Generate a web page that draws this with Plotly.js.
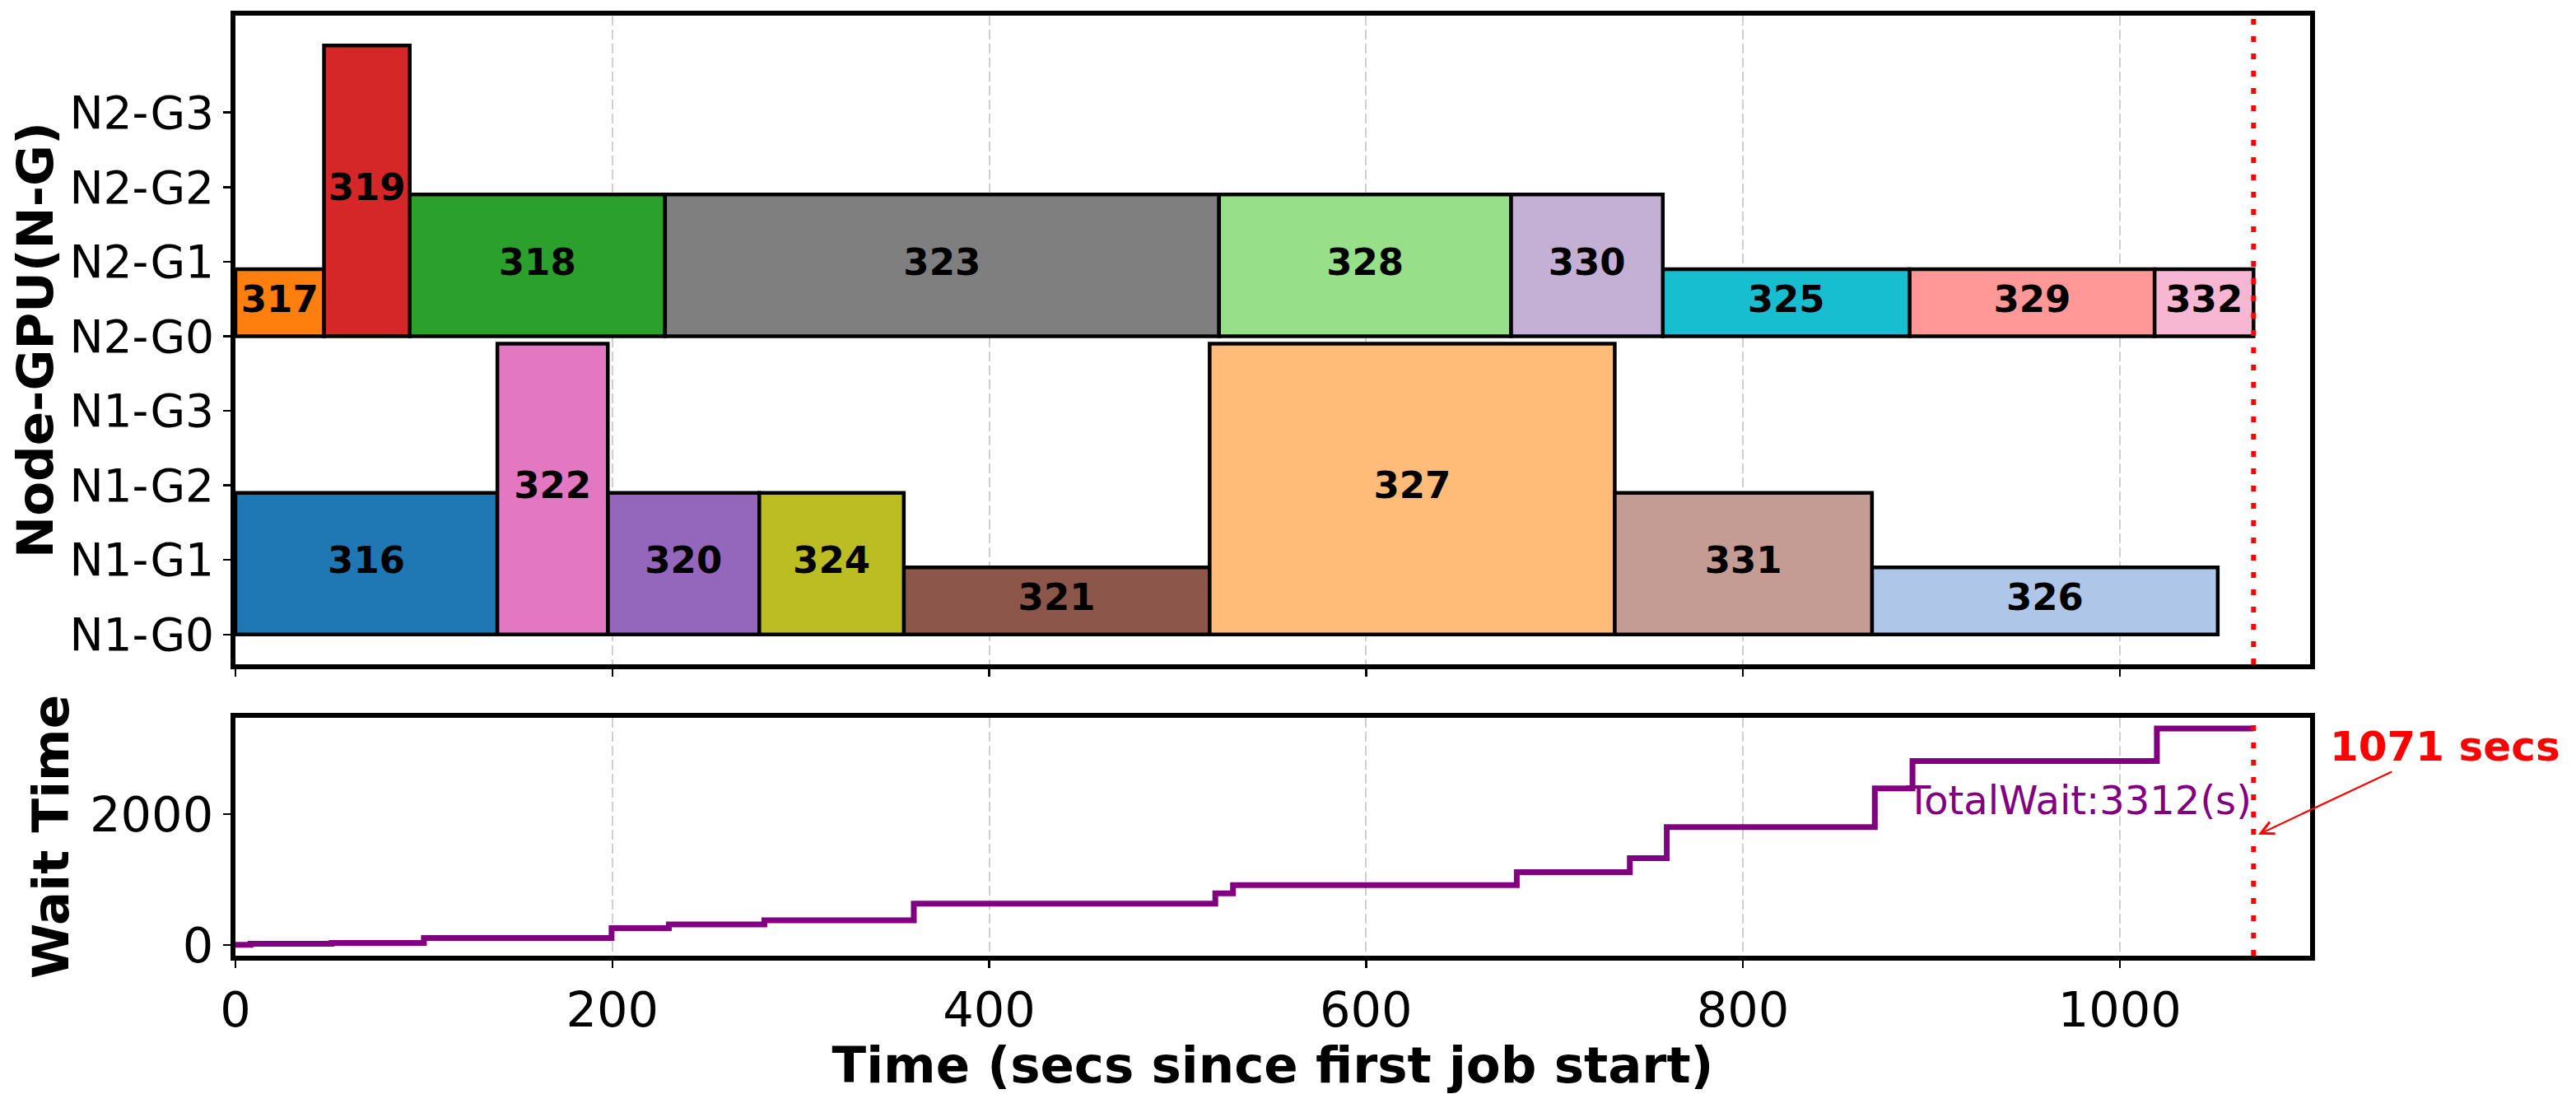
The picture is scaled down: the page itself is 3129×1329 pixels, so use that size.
<!DOCTYPE html>
<html><head><meta charset="utf-8">
<script src="https://cdn.plot.ly/plotly-3.0.1.min.js"></script>
<style>html,body{margin:0;padding:0;background:#fff;} #chart{width:3129px;height:1329px;}</style>
</head><body><div id="chart"></div>
<script>
// ---- data ----
const jobIds      = [316, 317, 318, 319, 320, 321, 322, 323, 324, 325, 326, 327, 328, 329, 330, 331, 332];
const jobStart    = [0, 0, 92.5, 47, 197.6, 354.7, 139, 228, 278, 757.5, 868.5, 517, 522, 888.5, 677, 732, 1018.5];
const jobEnd      = [139, 47, 228, 92.5, 278, 517, 197.6, 522, 354.7, 888.5, 1052, 732, 677, 1018.5, 757.5, 868.5, 1071];
const jobNode     = [1, 2, 2, 2, 1, 1, 1, 2, 1, 2, 1, 1, 2, 2, 2, 1, 2];
const jobFirstGpu = [0, 0, 0, 0, 0, 0, 0, 0, 0, 0, 0, 0, 0, 0, 0, 0, 0];
const jobGpuCount = [2, 1, 2, 4, 2, 1, 4, 2, 2, 1, 1, 4, 2, 1, 2, 2, 1];
const jobColors   = ['#1f77b4', '#ff7f0e', '#2ca02c', '#d62728', '#9467bd', '#8c564b', '#e377c2', '#7f7f7f',
                     '#bcbd22', '#17becf', '#aec7e8', '#ffbb78', '#98df8a', '#ff9896', '#c5b0d5', '#c49c94', '#f7b6d2'];
const gpuTickLabels = ['N1-G0', 'N1-G1', 'N1-G2', 'N1-G3', 'N2-G0', 'N2-G1', 'N2-G2', 'N2-G3'];
const gpusPerNode = 4;

const waitTimes  = [0, 8, 51, 100, 199.6, 230, 280.7, 360, 520, 529.4, 680, 740, 759.6, 870, 890, 1019.7, 1071];
const waitValues = [0, 18, 29, 105, 256, 312, 375, 633, 789, 915, 1114, 1329, 1805, 2396, 2814, 3312, 3312];

const makespan = 1071;
const totalWait = 3312;
const xTicks = [0, 200, 400, 600, 800, 1000];
const waitTicks = [0, 2000];

// ---- derived positions through the axes ----
const barGap = 0.1;
const rowBase = jobIds.map((_, i) => (jobNode[i] - 1) * gpusPerNode + jobFirstGpu[i]);
const barHeight = jobGpuCount.map(n => n - barGap);
const barCenter = rowBase.map((b, i) => b + barHeight[i] / 2);
const barDur = jobEnd.map((e, i) => e - jobStart[i]);
const labelX = jobEnd.map((e, i) => (e + jobStart[i]) / 2);

const FONT = 'DejaVu Sans';

const traces = [
  {
    type: 'bar', orientation: 'h', xaxis: 'x', yaxis: 'y',
    y: barCenter, x: barDur, base: jobStart, width: barHeight,
    marker: {color: jobColors, line: {color: '#000', width: 4.5}},
    hoverinfo: 'skip', showlegend: false
  },
  {
    type: 'scatter', mode: 'text', xaxis: 'x', yaxis: 'y',
    x: labelX, y: barCenter, text: jobIds.map(String),
    textfont: {family: FONT, size: 45, color: '#000', weight: 'bold'},
    textposition: 'middle center', hoverinfo: 'skip', showlegend: false, cliponaxis: false
  },
  {
    type: 'scatter', mode: 'lines', xaxis: 'x2', yaxis: 'y2',
    x: waitTimes, y: waitValues, line: {shape: 'hv', color: '#800080', width: 7},
    hoverinfo: 'skip', showlegend: false
  }
];

const gridStyle = {showgrid: true, gridcolor: '#cfcfcf', gridwidth: 2, griddash: '12px,5px'};
const axisBase = {
  showline: true, linecolor: '#000', linewidth: 6, mirror: true,
  ticks: 'outside', ticklen: 9, tickwidth: 2.5, tickcolor: '#000',
  zeroline: false, layer: 'above traces', fixedrange: true
};

const layout = {
  width: 3129, height: 1329,
  margin: {l: 286, r: 323, t: 19, b: 168, pad: 0},
  paper_bgcolor: '#fff', plot_bgcolor: '#fff',
  font: {family: FONT, color: '#000'},
  showlegend: false,
  barmode: 'overlay',
  xaxis: Object.assign({}, axisBase, gridStyle, {
    domain: [0, 1], anchor: 'y', range: [0, 1101],
    tickmode: 'array', tickvals: xTicks, showticklabels: false
  }),
  yaxis: Object.assign({}, axisBase, {
    domain: [0.3100, 1], anchor: 'x', range: [-0.4, 8.3], showgrid: false,
    tickmode: 'array', tickvals: gpuTickLabels.map((_, i) => i), ticktext: gpuTickLabels,
    tickfont: {family: FONT, size: 55},
    title: {text: 'Node-GPU(N-G)', font: {family: FONT, size: 61, weight: 'bold'}, standoff: 2}
  }),
  xaxis2: Object.assign({}, axisBase, gridStyle, {
    domain: [0, 1], anchor: 'y2', range: [0, 1101], matches: 'x',
    tickmode: 'array', tickvals: xTicks, tickfont: {family: FONT, size: 59},
    title: {text: 'Time (secs since first job start)', font: {family: FONT, size: 61, weight: 'bold'}, standoff: 12}
  }),
  yaxis2: Object.assign({}, axisBase, {
    domain: [0, 0.2531], anchor: 'x2', range: [-165.6, 3477.6], showgrid: false,
    tickmode: 'array', tickvals: waitTicks, tickfont: {family: FONT, size: 59},
    title: {text: 'Wait Time', font: {family: FONT, size: 61, weight: 'bold'}, standoff: 8}
  }),
  shapes: [
    {type: 'line', xref: 'x', yref: 'y domain', x0: makespan, x1: makespan, y0: 0, y1: 1,
     line: {color: '#ff0000', width: 6, dash: '7px,14px'}, layer: 'above'},
    {type: 'line', xref: 'x2', yref: 'y2 domain', x0: makespan, x1: makespan, y0: 0, y1: 1,
     line: {color: '#ff0000', width: 6, dash: '7px,14px'}, layer: 'above'}
  ],
  annotations: [
    {xref: 'x2', yref: 'y2', x: makespan, y: 2220, xanchor: 'right', yanchor: 'middle',
     text: 'TotalWait:' + totalWait + '(s)', showarrow: false,
     font: {family: FONT, size: 48, color: '#800080'}},
    {xref: 'x2', yref: 'y2', x: makespan + 2.5, y: 1690, axref: 'x2', ayref: 'y2', ax: 1172.7, ay: 3036,
     text: makespan + ' secs', showarrow: true, arrowhead: 5, arrowsize: 1.4, arrowwidth: 2.2,
     arrowcolor: '#ff0000', standoff: 0,
     font: {family: FONT, size: 50, color: '#ff0000', weight: 'bold'}}
  ]
};

Plotly.newPlot('chart', traces, layout, {staticPlot: true, displayModeBar: false});
</script>
</body></html>
